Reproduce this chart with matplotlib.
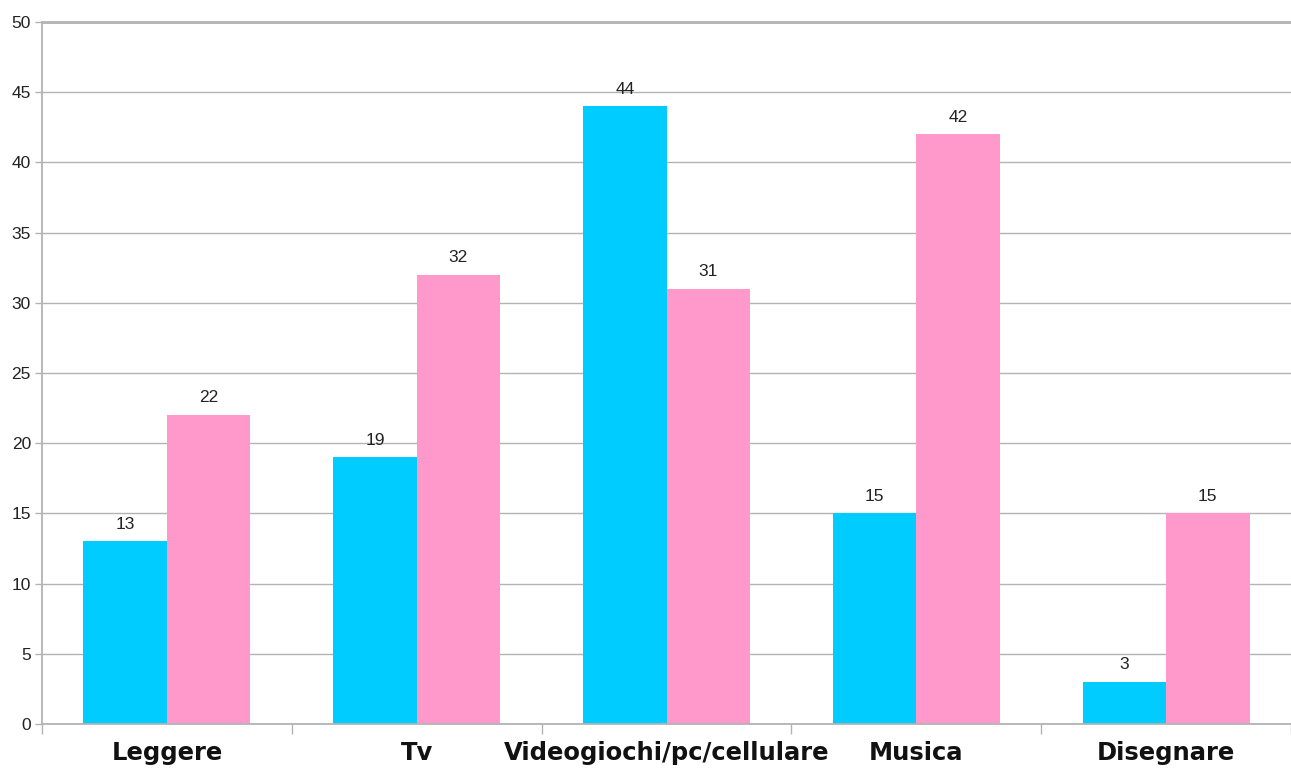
import matplotlib
matplotlib.use("Agg")
import matplotlib.pyplot as plt
import numpy as np

categories = ["Leggere", "Tv", "Videogiochi/pc/cellulare", "Musica", "Disegnare"]
series_blue = [13, 19, 44, 15, 3]
series_pink = [22, 32, 31, 42, 15]
yticks = [0, 5, 10, 15, 20, 25, 30, 35, 40, 45, 50]

fig = plt.figure(figsize=(12.91, 7.70), dpi=100)
ax = fig.add_axes([42/1291, 1 - 724/770, 1 - 42/1291, (724 - 22)/770])

x = np.arange(len(categories))
w = 0.334
b1 = ax.bar(x - w/2, series_blue, width=w, color="#00CCFF", zorder=2)
b2 = ax.bar(x + w/2, series_pink, width=w, color="#FF99CC", zorder=2)

for bars, vals in ((b1, series_blue), (b2, series_pink)):
    for r, v in zip(bars, vals):
        ax.annotate(str(v), (r.get_x() + r.get_width()/2, v), xytext=(0, 7),
                    textcoords="offset points", ha="center", va="bottom",
                    fontsize=12.5, color="#222222", family="Liberation Sans", zorder=4)

ax.set_xlim(-0.5, len(categories) - 0.5)
ax.set_ylim(0, 50)
ax.set_yticks(yticks)
ax.set_yticklabels([str(t) for t in yticks], family="Liberation Sans", fontsize=12.5, color="#222222")
ax.yaxis.grid(True, color="#b3b3b3", linewidth=1.0, zorder=0)
ax.set_axisbelow(True)

ax.set_xticks(x)
ax.set_xticklabels(categories, fontsize=17.5, fontweight="bold", family="DejaVu Sans", color="#111111")
ax.tick_params(axis="x", length=0, pad=12)
ax.set_xticks(np.arange(len(categories) + 1) - 0.5, minor=True)
ax.tick_params(axis="x", which="minor", length=7, color="#b3b3b3", width=1.0)
ax.tick_params(axis="y", length=5, color="#b3b3b3", width=1.0, pad=3)

for s in ["top", "right"]:
    ax.spines[s].set_visible(False)
ax.spines["left"].set_color("#b3b3b3")
ax.spines["left"].set_linewidth(1.3)
ax.spines["bottom"].set_color("#b3b3b3")
ax.spines["bottom"].set_linewidth(1.3)
ax.axhline(50, color="#b3b3b3", linewidth=2.0, zorder=1, clip_on=False)

fig.savefig("out.png", dpi=100)
